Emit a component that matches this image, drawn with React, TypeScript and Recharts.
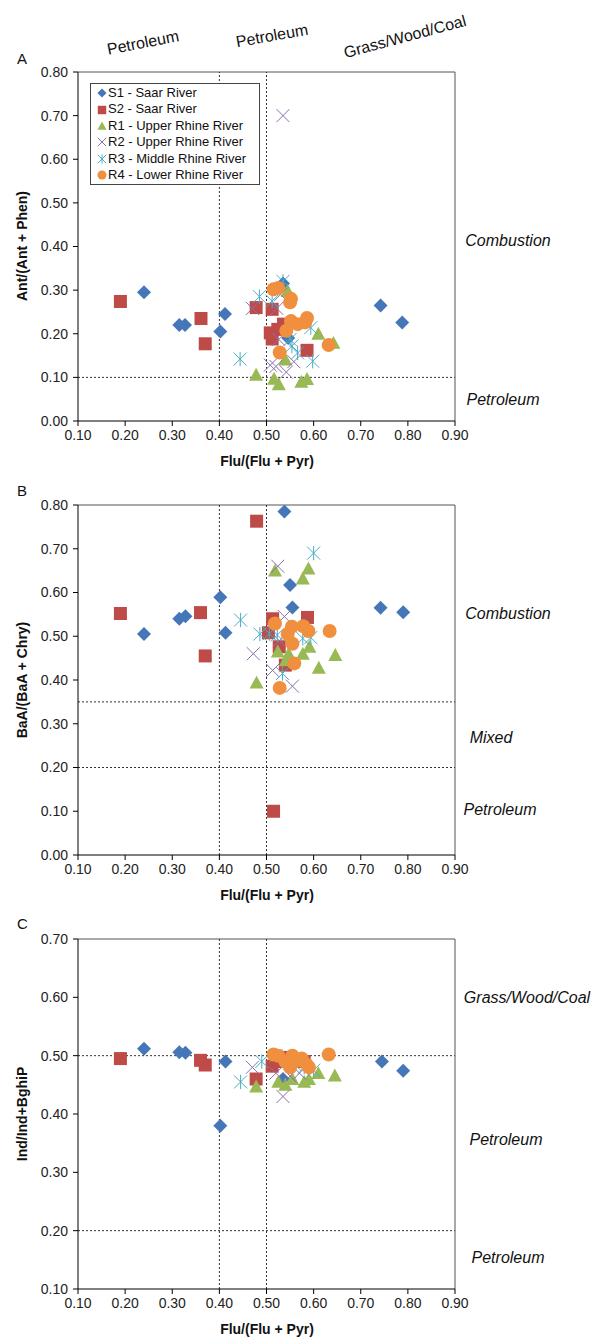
import React from "react";
import {
  ScatterChart,
  Scatter,
  XAxis,
  YAxis,
  ReferenceLine,
  Legend,
} from "recharts";

// Flu/(Flu + Pyr) on x, diagnostic ratio on y, one [x, y] pair per sample
const FONT = "'Liberation Sans', Arial, sans-serif";

const seriesNames = [
  "S1 - Saar River",
  "S2 - Saar River",
  "R1 - Upper Rhine River",
  "R2 - Upper Rhine River",
  "R3 - Middle Rhine River",
  "R4 - Lower Rhine River",
];
const seriesColors = ["#4577b8", "#be4b48", "#98b954", "#8a6fb0", "#4bacc6", "#f0903f"];

const xTicks = [0.1, 0.2, 0.3, 0.4, 0.5, 0.6, 0.7, 0.8, 0.9];

// Panel A: Ant/(Ant + Phen)
const antS1 = [[0.24, 0.295], [0.315, 0.22], [0.327, 0.22], [0.402, 0.205], [0.412, 0.245], [0.535, 0.315], [0.546, 0.19], [0.742, 0.265], [0.788, 0.226]];
const antS2 = [[0.19, 0.274], [0.361, 0.235], [0.37, 0.177], [0.478, 0.26], [0.512, 0.256], [0.508, 0.202], [0.512, 0.188], [0.524, 0.21], [0.536, 0.222], [0.586, 0.162]];
const antR1 = [[0.478, 0.106], [0.516, 0.097], [0.526, 0.084], [0.54, 0.141], [0.545, 0.298], [0.574, 0.09], [0.586, 0.096], [0.61, 0.2], [0.642, 0.179]];
const antR2 = [[0.47, 0.258], [0.508, 0.128], [0.52, 0.125], [0.522, 0.258], [0.526, 0.187], [0.542, 0.112], [0.558, 0.136], [0.535, 0.7], [0.53, 0.29]];
const antR3 = [[0.444, 0.142], [0.485, 0.285], [0.512, 0.275], [0.535, 0.32], [0.55, 0.187], [0.554, 0.172], [0.566, 0.156], [0.594, 0.214], [0.598, 0.137]];
const antR4 = [[0.515, 0.302], [0.525, 0.305], [0.55, 0.272], [0.552, 0.28], [0.528, 0.157], [0.542, 0.207], [0.552, 0.229], [0.566, 0.222], [0.582, 0.226], [0.586, 0.236], [0.632, 0.174]];

// Panel B: BaA/(BaA + Chry)
const baaS1 = [[0.24, 0.505], [0.315, 0.54], [0.328, 0.546], [0.402, 0.589], [0.413, 0.508], [0.538, 0.785], [0.55, 0.617], [0.555, 0.566], [0.742, 0.565], [0.79, 0.555]];
const baaS2 = [[0.19, 0.552], [0.36, 0.554], [0.37, 0.455], [0.479, 0.763], [0.513, 0.54], [0.504, 0.508], [0.527, 0.476], [0.54, 0.434], [0.587, 0.543], [0.515, 0.1]];
const baaR1 = [[0.479, 0.394], [0.518, 0.65], [0.524, 0.465], [0.541, 0.445], [0.547, 0.46], [0.577, 0.632], [0.589, 0.655], [0.577, 0.46], [0.591, 0.476], [0.611, 0.428], [0.646, 0.457]];
const baaR2 = [[0.472, 0.46], [0.513, 0.422], [0.524, 0.66], [0.527, 0.49], [0.538, 0.545], [0.555, 0.386]];
const baaR3 = [[0.445, 0.537], [0.486, 0.505], [0.506, 0.506], [0.523, 0.503], [0.534, 0.415], [0.577, 0.495], [0.594, 0.497], [0.6, 0.69]];
const baaR4 = [[0.518, 0.529], [0.545, 0.505], [0.554, 0.522], [0.555, 0.483], [0.559, 0.438], [0.528, 0.382], [0.578, 0.523], [0.589, 0.512], [0.634, 0.512]];

// Panel C: Ind/(Ind + BghiP)
const indS1 = [[0.24, 0.512], [0.315, 0.506], [0.328, 0.505], [0.402, 0.38], [0.413, 0.49], [0.535, 0.46], [0.745, 0.49], [0.79, 0.474]];
const indS2 = [[0.19, 0.495], [0.36, 0.492], [0.37, 0.484], [0.478, 0.46], [0.512, 0.482], [0.525, 0.49], [0.535, 0.497], [0.58, 0.49]];
const indR1 = [[0.478, 0.447], [0.525, 0.455], [0.54, 0.45], [0.555, 0.46], [0.58, 0.455], [0.59, 0.46], [0.61, 0.47], [0.645, 0.466]];
const indR2 = [[0.47, 0.48], [0.52, 0.47], [0.535, 0.43], [0.55, 0.465], [0.57, 0.47]];
const indR3 = [[0.445, 0.455], [0.49, 0.49], [0.52, 0.5], [0.56, 0.485], [0.58, 0.48], [0.6, 0.475]];
const indR4 = [[0.515, 0.502], [0.525, 0.5], [0.54, 0.49], [0.55, 0.48], [0.555, 0.5], [0.56, 0.49], [0.575, 0.495], [0.585, 0.485], [0.59, 0.48], [0.632, 0.502]];

const toPoints = (arr: number[][]) => arr.map(([x, y]) => ({ x, y }));

// marker shapes, Excel style
const marker = (i: number, cx: number, cy: number, s = 1) => {
  const c = seriesColors[i];
  if (i === 0) {
    const r = 7 * s;
    return <path d={`M${cx},${cy - r}L${cx + r},${cy}L${cx},${cy + r}L${cx - r},${cy}Z`} fill={c} />;
  }
  if (i === 1) {
    const r = 6.5 * s;
    return <rect x={cx - r} y={cy - r} width={2 * r} height={2 * r} fill={c} />;
  }
  if (i === 2) {
    const r = 7 * s;
    return <path d={`M${cx},${cy - r}L${cx + r},${cy + r * 0.85}L${cx - r},${cy + r * 0.85}Z`} fill={c} />;
  }
  if (i === 3) {
    const r = 6.5 * s;
    return <path d={`M${cx - r},${cy - r}L${cx + r},${cy + r}M${cx + r},${cy - r}L${cx - r},${cy + r}`} stroke={c} strokeWidth={1} fill="none" />;
  }
  if (i === 4) {
    const r = 6.5 * s;
    return (
      <path
        d={`M${cx - r},${cy - r}L${cx + r},${cy + r}M${cx + r},${cy - r}L${cx - r},${cy + r}M${cx},${cy - r * 1.1}L${cx},${cy + r * 1.1}`}
        stroke={c}
        strokeWidth={1}
        fill="none"
      />
    );
  }
  return <circle cx={cx} cy={cy} r={7 * s} fill={c} />;
};

const LegendBox = () => (
  <div
    style={{
      border: "1px solid #444",
      background: "#fff",
      padding: "1px 4px 1px 6px",
      fontFamily: FONT,
      fontSize: 13,
      lineHeight: "16.4px",
      color: "#111",
      width: 158,
    }}
  >
    {seriesNames.map((n, i) => (
      <div key={n} style={{ display: "flex", alignItems: "center", whiteSpace: "nowrap" }}>
        <svg width={10} height={12} style={{ marginRight: 1 }}>
          {marker(i, 5, 6, 0.65)}
        </svg>
        <span>{n}</span>
      </div>
    ))}
  </div>
);

interface PanelProps {
  top: number;
  marginTop: number;
  marginBottom: number;
  yDomain: [number, number];
  yTicks: number[];
  hLines: number[];
  data: number[][][];
  showLegend?: boolean;
}

const tickStyle = { fill: "#222", fontSize: 14, fontFamily: FONT };

const Panel: React.FC<PanelProps> = ({ top, marginTop, marginBottom, yDomain, yTicks, hLines, data, showLegend }) => (
  <div style={{ position: "absolute", left: 0, top }}>
    <ScatterChart
      width={592}
      height={460}
      margin={{ top: marginTop, right: 137, left: 18, bottom: marginBottom }}
    >
      <XAxis
        type="number"
        dataKey="x"
        domain={[0.1, 0.9]}
        ticks={xTicks}
        tickFormatter={(v: number) => v.toFixed(2)}
        allowDataOverflow
        height={30}
        stroke="#000"
        tickSize={5}
        tickMargin={4}
        tick={tickStyle}
      />
      <YAxis
        type="number"
        dataKey="y"
        domain={yDomain}
        ticks={yTicks}
        tickFormatter={(v: number) => v.toFixed(2)}
        allowDataOverflow
        width={60}
        stroke="#000"
        tickSize={5}
        tickMargin={5}
        tick={tickStyle}
      />
      <ReferenceLine x={0.9} stroke="#555" />
      <ReferenceLine y={yDomain[1]} stroke="#555" />
      <ReferenceLine x={0.4} stroke="#333" strokeDasharray="2 2" />
      <ReferenceLine x={0.5} stroke="#333" strokeDasharray="2 2" />
      {hLines.map((h) => (
        <ReferenceLine key={h} y={h} stroke="#333" strokeDasharray="2 2" />
      ))}
      {data.map((d, i) => (
        <Scatter
          key={seriesNames[i]}
          name={seriesNames[i]}
          data={toPoints(d)}
          fill={seriesColors[i]}
          isAnimationActive={false}
          shape={(p: any) => marker(i, p.cx, p.cy)}
        />
      ))}
      {showLegend && (
        <Legend
          layout="vertical"
          align="center"
          verticalAlign="middle"
          content={() => <LegendBox />}
          wrapperStyle={{ left: 90, top: 83, width: 172 }}
        />
      )}
    </ScatterChart>
  </div>
);

const txt = { fontFamily: FONT, fill: "#111" };

export default function App() {
  return (
    <div style={{ position: "absolute", left: 0, top: 0, width: 592, height: 1340, background: "#fff" }}>
      <Panel
        top={0}
        marginTop={72}
        marginBottom={9}
        yDomain={[0, 0.8]}
        yTicks={[0, 0.1, 0.2, 0.3, 0.4, 0.5, 0.6, 0.7, 0.8]}
        hLines={[0.1]}
        data={[antS1, antS2, antR1, antR2, antR3, antR4]}
        showLegend
      />
      <Panel
        top={440}
        marginTop={65}
        marginBottom={15}
        yDomain={[0, 0.8]}
        yTicks={[0, 0.1, 0.2, 0.3, 0.4, 0.5, 0.6, 0.7, 0.8]}
        hLines={[0.35, 0.2]}
        data={[baaS1, baaS2, baaR1, baaR2, baaR3, baaR4]}
      />
      <Panel
        top={880}
        marginTop={59}
        marginBottom={21}
        yDomain={[0.1, 0.7]}
        yTicks={[0.1, 0.2, 0.3, 0.4, 0.5, 0.6, 0.7]}
        hLines={[0.5, 0.2]}
        data={[indS1, indS2, indR1, indR2, indR3, indR4]}
      />
      <svg
        width={592}
        height={1340}
        style={{ position: "absolute", left: 0, top: 0, pointerEvents: "none" }}
      >
        {/* panel letters */}
        <text x={17} y={64} fontSize={15} {...txt}>A</text>
        <text x={17} y={496} fontSize={15} {...txt}>B</text>
        <text x={17} y={929} fontSize={15} {...txt}>C</text>

        {/* source labels above panel A */}
        <text x={143} y={48} fontSize={16} textAnchor="middle" transform="rotate(-11 143 43)" {...txt}>Petroleum</text>
        <text x={272} y={41} fontSize={16} textAnchor="middle" transform="rotate(-10 272 36)" {...txt}>Petroleum</text>
        <text x={405} y={42} fontSize={16} textAnchor="middle" transform="rotate(-15 405 37)" {...txt}>Grass/Wood/Coal</text>

        {/* axis titles */}
        <text x={0} y={0} fontSize={14} fontWeight="bold" textAnchor="middle" transform="translate(27 246) rotate(-90)" {...txt}>Ant/(Ant + Phen)</text>
        <text x={0} y={0} fontSize={14} fontWeight="bold" textAnchor="middle" transform="translate(27 680) rotate(-90)" {...txt}>BaA/(BaA + Chry)</text>
        <text x={0} y={0} fontSize={14} fontWeight="bold" textAnchor="middle" transform="translate(27 1114) rotate(-90)" {...txt}>Ind/Ind+BghiP</text>
        <text x={267} y={466} fontSize={14} fontWeight="bold" textAnchor="middle" {...txt}>Flu/(Flu + Pyr)</text>
        <text x={267} y={900} fontSize={14} fontWeight="bold" textAnchor="middle" {...txt}>Flu/(Flu + Pyr)</text>
        <text x={267} y={1334} fontSize={14} fontWeight="bold" textAnchor="middle" {...txt}>Flu/(Flu + Pyr)</text>

        {/* source regions */}
        <g fontSize={16} fontStyle="italic" textAnchor="middle">
          <text x={508} y={246} {...txt}>Combustion</text>
          <text x={503} y={405} {...txt}>Petroleum</text>
          <text x={508} y={619} {...txt}>Combustion</text>
          <text x={491} y={743} {...txt}>Mixed</text>
          <text x={500} y={815} {...txt}>Petroleum</text>
          <text x={527} y={1003} {...txt}>Grass/Wood/Coal</text>
          <text x={506} y={1145} {...txt}>Petroleum</text>
          <text x={508} y={1263} {...txt}>Petroleum</text>
        </g>
      </svg>
    </div>
  );
}
